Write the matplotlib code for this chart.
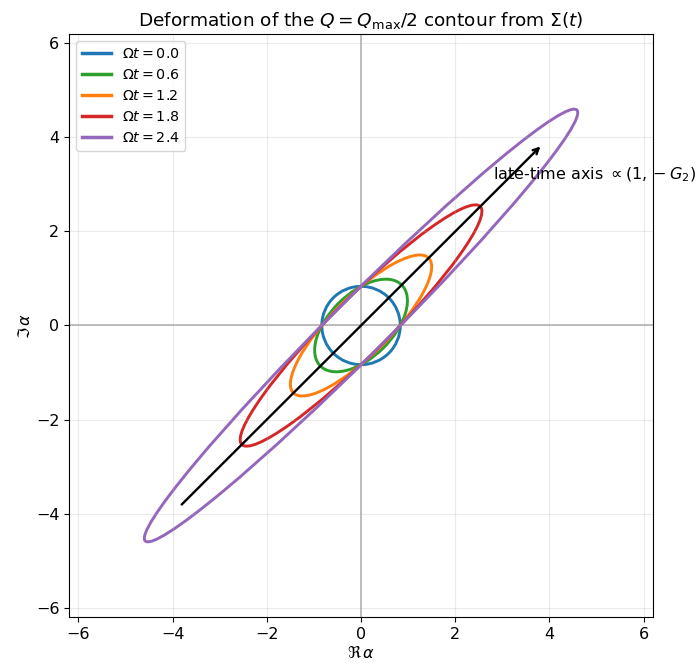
import numpy as np
import matplotlib.pyplot as plt
from matplotlib.patches import Ellipse

# Q = Qmax/2 contours: ellipses tilted at 45 deg, semi-axes along (1,1) and (1,-1)
omega_t = [0.0, 0.6, 1.2, 1.8, 2.4]
semi_major = [0.833, 1.22, 2.03, 3.58, 6.48]
semi_minor = [0.833, 0.672, 0.615, 0.597, 0.594]
colors = ["#1f77b4", "#2ca02c", "#ff7f0e", "#d62728", "#9467bd"]

# late-time stretching direction
arrow_start = (-3.85, -3.85)
arrow_end = (3.85, 3.85)

fig = plt.figure(figsize=(6.98, 6.64), dpi=100)
ax = fig.add_axes([0.0989, 0.0708, 0.8367, 0.878])

ax.axhline(0, color="0.7", lw=1.2, zorder=0)
ax.axvline(0, color="0.7", lw=1.2, zorder=0)
ax.grid(True, alpha=0.25)

for wt, a, b, c in zip(omega_t, semi_major, semi_minor, colors):
    ax.add_patch(Ellipse((0, 0), 2*a, 2*b, angle=45, fill=False,
                         edgecolor=c, lw=2.1))
    ax.plot([], [], color=c, lw=2.5, label=r"$\Omega t = %.1f$" % wt)

ax.annotate("", xy=arrow_end, xytext=arrow_start,
            arrowprops=dict(arrowstyle="->", color="black", lw=1.7))
ax.text(2.8, 3.2, r"late-time axis $\propto (1, -G_2)$", fontsize=11.5,
        va="center", clip_on=False)

ax.set_xlim(-6.2, 6.2)
ax.set_ylim(-6.2, 6.2)
ax.set_xticks([-6, -4, -2, 0, 2, 4, 6])
ax.set_yticks([-6, -4, -2, 0, 2, 4, 6])
ax.tick_params(labelsize=11.5)
ax.set_xlabel(r"$\Re\,\alpha$", fontsize=11.5, labelpad=2)
ax.set_ylabel(r"$\Im\,\alpha$", fontsize=11.5, labelpad=2)
ax.set_title(r"Deformation of the $Q = Q_{\max}/2$ contour from $\Sigma(t)$",
             fontsize=13.3, pad=6)
ax.legend(loc="upper left", fontsize=10.3)

fig.savefig("out.png", dpi=100)
